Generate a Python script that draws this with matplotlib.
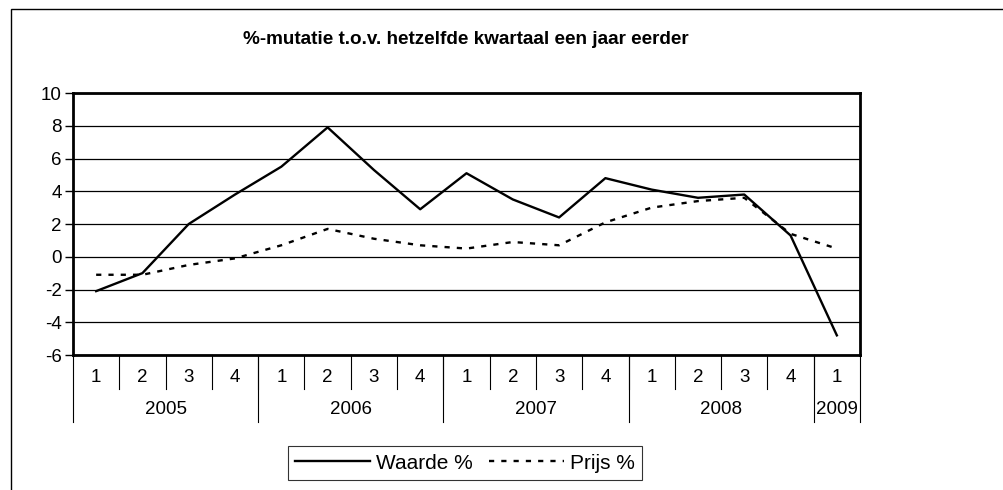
import matplotlib.pyplot as plt
import matplotlib.transforms as mtransforms
from matplotlib.patches import Rectangle
import numpy as np

plt.rcParams['font.family'] = ['Liberation Sans', 'DejaVu Sans']
plt.rcParams['axes.unicode_minus'] = False

kwartalen = ['1', '2', '3', '4', '1', '2', '3', '4', '1', '2', '3', '4',
             '1', '2', '3', '4', '1']
jaren = ['2005', '2006', '2007', '2008', '2009']
jaar_lengte = [4, 4, 4, 4, 1]

waarde = [-2.1, -1.0, 2.0, 3.8, 5.5, 7.9, 5.3, 2.9, 5.1, 3.5, 2.4, 4.8,
          4.1, 3.6, 3.8, 1.3, -4.8]
prijs = [-1.1, -1.1, -0.5, -0.1, 0.7, 1.7, 1.1, 0.7, 0.5, 0.9, 0.7, 2.1,
         3.0, 3.4, 3.6, 1.4, 0.5]

W, H = 1004, 490
fig = plt.figure(figsize=(W / 100, H / 100), dpi=100)
ax = fig.add_axes([73 / W, (H - 355) / H, 787 / W, 262 / H])

x = np.arange(len(waarde)) + 0.5
l1, = ax.plot(x, waarde, color='black', lw=1.7, label='Waarde %')
l2, = ax.plot(x, prijs, color='black', lw=1.7, ls=(0, (2.2, 3.0)), label='Prijs %')

ax.set_xlim(0, len(waarde))
ax.set_ylim(-6, 10)
ax.set_yticks(np.arange(-6, 11, 2))
ax.tick_params(axis='y', direction='out', length=6, width=1, labelsize=13.5, pad=2)
ax.set_xticks([])
ax.yaxis.grid(True, color='black', lw=0.9)
ax.set_axisbelow(True)
for s in ax.spines.values():
    s.set_linewidth(2)

# categorie-as met kwartalen en jaren
tr = mtransforms.blended_transform_factory(ax.transData, ax.transAxes)
for i, q in enumerate(kwartalen):
    ax.text(i + 0.5, -0.085, q, transform=tr, ha='center', va='center', fontsize=13.5)
    if i > 0:
        ax.plot([i, i], [0, -0.13], transform=tr, color='black', lw=0.8, clip_on=False)
pos = 0
grenzen = [0]
for j, n in zip(jaren, jaar_lengte):
    ax.text(pos + n / 2, -0.207, j, transform=tr, ha='center', va='center', fontsize=13.5)
    pos += n
    grenzen.append(pos)
for g in grenzen:
    ax.plot([g, g], [0, -0.257], transform=tr, color='black', lw=0.8, clip_on=False)

fig.text(466 / W, 1 - 40 / H, '%-mutatie t.o.v. hetzelfde kwartaal een jaar eerder',
         ha='center', va='center', fontsize=13.6, fontweight='bold')

leg = fig.legend(handles=[l1, l2], loc='center', bbox_to_anchor=(465 / W, 1 - 463 / H),
                 ncol=2, fontsize=15, frameon=True, fancybox=False, edgecolor='black',
                 handlelength=3.6, handletextpad=0.3, columnspacing=0.75,
                 borderpad=0.35, borderaxespad=0)
leg.get_frame().set_linewidth(0.8)

fig.patches.append(Rectangle((11 / W, -0.1), 1.2, (H - 9) / H + 0.1,
                             transform=fig.transFigure, fill=False,
                             edgecolor='black', lw=1))

fig.savefig('out.png', dpi=100)
